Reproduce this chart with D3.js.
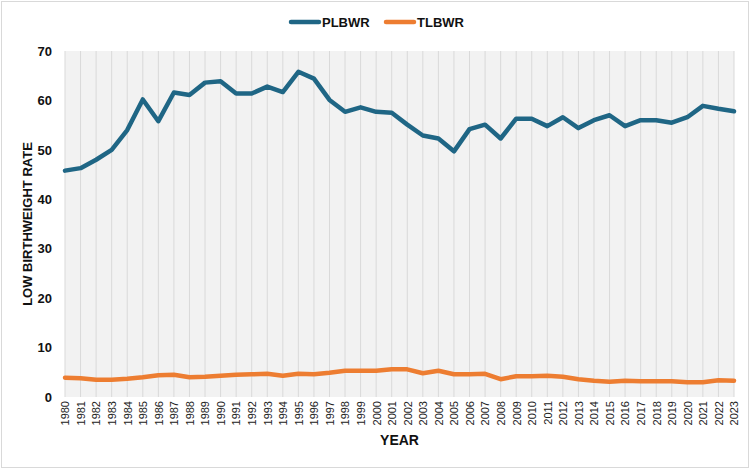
<!DOCTYPE html>
<html>
<head>
<meta charset="utf-8">
<script src="https://cdn.jsdelivr.net/npm/d3@7"></script>
<style>
  html, body { margin: 0; padding: 0; background: #fff; }
  svg { display: block; font-family: "Liberation Sans", Arial, sans-serif; }
</style>
</head>
<body>
<svg id="chart" width="750" height="469"></svg>
<script>
const years = [1980,1981,1982,1983,1984,1985,1986,1987,1988,1989,1990,1991,1992,1993,1994,1995,1996,1997,1998,1999,2000,2001,2002,2003,2004,2005,2006,2007,2008,2009,2010,2011,2012,2013,2014,2015,2016,2017,2018,2019,2020,2021,2022,2023];
const plbwr = [45.8,46.3,48.0,50.0,54.0,60.2,55.8,61.6,61.1,63.6,63.9,61.4,61.4,62.8,61.7,65.8,64.4,60.1,57.7,58.6,57.7,57.5,55.1,52.9,52.3,49.7,54.2,55.1,52.3,56.3,56.3,54.8,56.6,54.4,56.0,57.0,54.8,56.0,56.0,55.5,56.6,58.9,58.3,57.8];
const tlbwr = [3.9,3.8,3.5,3.5,3.7,4.0,4.4,4.5,4.0,4.1,4.3,4.5,4.6,4.7,4.3,4.7,4.6,4.9,5.3,5.3,5.3,5.6,5.6,4.8,5.3,4.6,4.6,4.7,3.6,4.2,4.2,4.3,4.1,3.6,3.3,3.1,3.3,3.2,3.2,3.2,3.0,3.0,3.4,3.3];
const yTicks = [0,10,20,30,40,50,60,70];
const seriesNames = ["PLBWR", "TLBWR"];
const seriesColors = ["#1f6685", "#ed7d31"];

const svg = d3.select("#chart");
const W = 750, H = 469;
const plot = {left: 65, right: 734, top: 51, bottom: 397};

// outer border
svg.append("rect").attr("x", 1.5).attr("y", 1.5).attr("width", W - 3).attr("height", H - 3)
  .attr("fill", "#fff").attr("stroke", "#d9d9d9").attr("stroke-width", 1);

const x = d3.scalePoint().domain(years).range([plot.left, plot.right]);
const y = d3.scaleLinear().domain([0, 70]).range([plot.bottom, plot.top]);

// plot background
svg.append("rect").attr("x", plot.left).attr("y", plot.top)
  .attr("width", plot.right - plot.left).attr("height", plot.bottom - plot.top)
  .attr("fill", "#f2f2f2");

// vertical gridlines
svg.append("g").selectAll("line").data(years).join("line")
  .attr("x1", d => x(d)).attr("x2", d => x(d))
  .attr("y1", plot.top).attr("y2", plot.bottom)
  .attr("stroke", "#d9d9d9").attr("stroke-width", 1);

// y axis
const yAxis = svg.append("g").attr("transform", `translate(${plot.left},0)`)
  .call(d3.axisLeft(y).tickValues(yTicks).tickSize(0).tickPadding(13));
yAxis.select(".domain").remove();
yAxis.selectAll("text").attr("font-size", 13).attr("font-weight", "bold")
  .attr("fill", "#111").style("font-family", "'Liberation Sans', Arial, sans-serif");

// x axis
const xAxis = svg.append("g").attr("transform", `translate(0,${plot.bottom})`)
  .call(d3.axisBottom(x).tickSize(0).tickPadding(4));
xAxis.select(".domain").remove();
xAxis.selectAll("text")
  .attr("font-size", 11).attr("fill", "#222")
  .style("font-family", "'Liberation Sans', Arial, sans-serif")
  .attr("text-anchor", "end").attr("dy", "0.35em")
  .attr("transform", "rotate(-90)")
  .attr("x", -4).attr("y", 0);

// lines
const line = d3.line().x((d, i) => x(years[i])).y(d => y(d));
[plbwr, tlbwr].forEach((s, k) => {
  svg.append("path").datum(s)
    .attr("d", line).attr("fill", "none")
    .attr("stroke", seriesColors[k]).attr("stroke-width", 4.5)
    .attr("stroke-linejoin", "round").attr("stroke-linecap", "round");
});

// axis titles
svg.append("text").attr("x", (plot.left + plot.right) / 2).attr("y", 445)
  .attr("text-anchor", "middle").attr("font-size", 14).attr("font-weight", "bold")
  .attr("fill", "#111").text("YEAR");
svg.append("text").attr("transform", `translate(32,${(plot.top + plot.bottom) / 2}) rotate(-90)`)
  .attr("text-anchor", "middle").attr("font-size", 13).attr("font-weight", "bold")
  .attr("fill", "#111").text("LOW BIRTHWEIGHT RATE");

// legend
const legendX = [289, 384];
seriesNames.forEach((n, k) => {
  const g = svg.append("g").attr("transform", `translate(${legendX[k]},22)`);
  g.append("line").attr("x1", 2).attr("x2", 30).attr("y1", 0).attr("y2", 0)
    .attr("stroke", seriesColors[k]).attr("stroke-width", 4.5).attr("stroke-linecap", "round");
  g.append("text").attr("x", 33).attr("y", 0).attr("dy", "0.35em")
    .attr("font-size", 13).attr("font-weight", "bold").attr("fill", "#111").text(n);
});
</script>
</body>
</html>
